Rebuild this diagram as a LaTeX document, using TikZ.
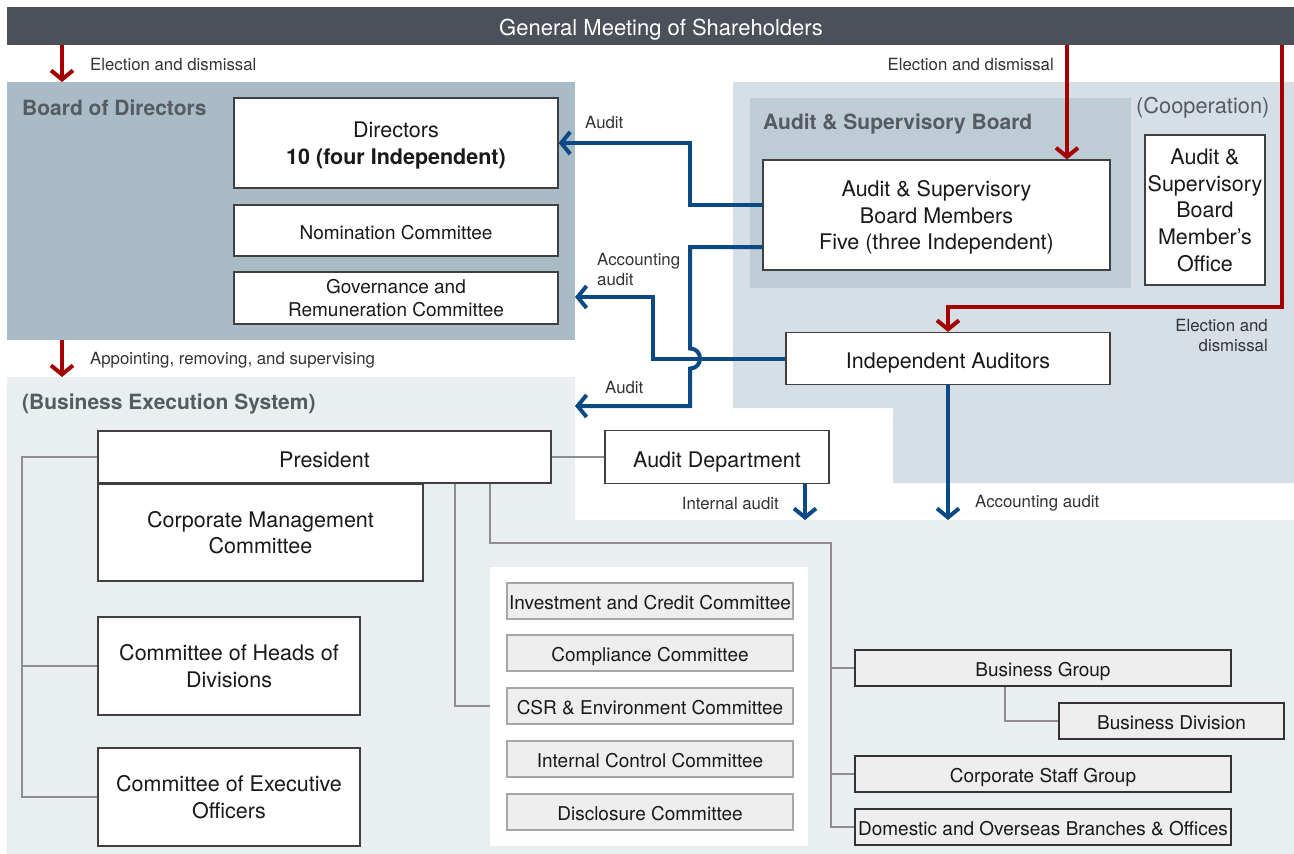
\documentclass[tikz,border=0pt]{standalone}
\usepackage{fontspec}
\setmainfont{TeX Gyre Heros}
\usetikzlibrary{arrows.meta}
\definecolor{topbar}{HTML}{4A5159}
\definecolor{bodpanel}{HTML}{A9BBC6}
\definecolor{audpanel}{HTML}{D6DFE6}
\definecolor{asbpanel}{HTML}{BDCCD5}
\definecolor{bespanel}{HTML}{E9EEF1}
\definecolor{redc}{HTML}{A30000}
\definecolor{bluec}{HTML}{0B4A84}
\definecolor{grayline}{HTML}{8E8E8E}
\definecolor{titlegray}{HTML}{555B61}
\definecolor{subfill}{HTML}{EEEEEE}
\newcommand{\fbig}{\fontsize{21.5}{26.8}\selectfont}
\newcommand{\fsml}{\fontsize{19}{22.5}\selectfont}
\newcommand{\flab}{\fontsize{16.8}{19.5}\selectfont}
\newcommand{\fttl}{\fontsize{21}{25}\selectfont\bfseries}
\newcommand{\toprule}{\rule{0pt}{0.93em}}
\newcommand{\toprulem}{\rule{0pt}{1.1em}}
\tikzset{
  vfix/.style={text depth=0pt, execute at begin node=\toprule},
  vfixm/.style={text depth=0pt, execute at begin node=\toprulem},
  box/.style={draw=black!75, line width=1.2pt, fill=white, inner sep=2pt, align=center, font=\fbig, text=black!90, vfix},
  mbox/.style={box, vfixm},
  subbox/.style={draw=black!35, line width=1.5pt, fill=subfill, inner sep=1pt, align=center, font=\fsml, text=black!90, minimum width=286pt, minimum height=36pt, vfix},
  orgbox/.style={draw=black!80, line width=1.2pt, fill=subfill, inner sep=1pt, align=center, font=\fsml, text=black!90, minimum height=36pt, vfix},
  lab/.style={font=\flab, text=black!80, inner sep=0pt},
  ttl/.style={font=\fttl, text=titlegray, inner sep=0pt, anchor=west},
  panel/.style={inner sep=0pt, outer sep=0pt, draw=none},
  rarrow/.style={draw=redc, line width=4pt, -{Straight Barb[length=9pt,width=22pt]}},
  barrow/.style={draw=bluec, line width=4pt, -{Straight Barb[length=9pt,width=22pt]}},
  gline/.style={draw=grayline, line width=2pt},
}
\begin{document}
\begin{tikzpicture}[x=1pt,y=-1pt]
\useasboundingbox (0,0) rectangle (1294,854);
% panels
\fill[bespanel] (7,377) -- (575,377) -- (575,520) -- (1294,520) -- (1294,854) -- (7,854) -- cycle;
\fill[audpanel] (733,82) -- (1294,82) -- (1294,483) -- (893,483) -- (893,408) -- (733,408) -- cycle;
\node[panel, fill=asbpanel, minimum width=381pt, minimum height=190pt] (asbp) at (940.5,193) {};
\node[panel, fill=bodpanel, minimum width=568pt, minimum height=258pt] (bodp) at (291,211) {};
\node[panel, fill=white, minimum width=318pt, minimum height=279pt] (wp) at (649,706.5) {};
% top bar
\node[panel, vfix, fill=topbar, minimum width=1287pt, minimum height=38pt, text=white, font=\fontsize{22}{26}\selectfont] (gm) at (650.5,25.5) {\hspace*{21pt}General Meeting of Shareholders};
% titles
\node[ttl] (bodt) at (22,108) {Board of Directors};
\node[ttl] (asbt) at (763,124) {Audit \& Supervisory Board};
\node[ttl, font=\fontsize{21.8}{25}\selectfont] (coop) at (1136,108) {(Cooperation)};
\node[ttl] (best) at (22,404) {(Business Execution System)};
% board boxes
\node[mbox, minimum width=324pt, minimum height=90pt] (dir) at (396,143) {Directors\\\textbf{10 (four Independent)}};
\node[box, font=\fsml, minimum width=324pt, minimum height=51pt] (nom) at (396,230.5) {Nomination Committee};
\node[mbox, font=\fsml, minimum width=324pt, minimum height=52pt] (gov) at (396,298) {Governance and\\Remuneration Committee};
% audit boxes
\node[mbox, minimum width=347pt, minimum height=110pt] (asbm) at (936.5,215) {Audit \& Supervisory\\Board Members\\Five (three Independent)};
\node[mbox, minimum width=120pt, minimum height=150pt, inner sep=0pt] (office) at (1205,210) {Audit \&\\Supervisory\\Board\\Member’s\\Office};
\node[box, minimum width=324pt, minimum height=52pt] (ia) at (948,358.5) {Independent Auditors};
% business execution boxes
\node[box, minimum width=453pt, minimum height=52pt] (pres) at (324.5,457) {President};
\node[box, minimum width=224pt, minimum height=53pt] (ad) at (717,457) {Audit Department};
\node[mbox, minimum width=325pt, minimum height=97pt] (cmc) at (260.5,532.5) {Corporate Management\\Committee};
\node[mbox, minimum width=262pt, minimum height=98pt] (chd) at (229,666) {Committee of Heads of\\Divisions};
\node[mbox, minimum width=262pt, minimum height=98pt] (ceo) at (229,797) {Committee of Executive\\Officers};
\node[subbox] (icc) at (650,601) {Investment and Credit Committee};
\node[subbox] (cc) at (650,653) {Compliance Committee};
\node[subbox] (csr) at (650,706) {CSR \& Environment Committee};
\node[subbox] (ic) at (650,759) {Internal Control Committee};
\node[subbox] (dc) at (650,812) {Disclosure Committee};
\node[orgbox, minimum width=376pt] (bg) at (1043,668) {Business Group};
\node[orgbox, minimum width=225pt] (bd) at (1171.5,721) {Business Division};
\node[orgbox, minimum width=376pt] (csg) at (1043,774) {Corporate Staff Group};
\node[orgbox, minimum width=376pt] (dob) at (1043,827) {Domestic and Overseas Branches \& Offices};
% helper coordinates
\coordinate (r1x) at (62,0);
\coordinate (bestop) at (0,377);
\coordinate (r3t) at ([xshift=130.5pt]asbm.north);
\coordinate (r4x) at (1282,0);
\coordinate (r4y) at (0,307);
\coordinate (bx) at (690,0);
\coordinate (b3x) at (653,0);
\coordinate (b3e) at (575,297);
\coordinate (b2e) at (575,406);
\coordinate (boty) at (0,520);
\coordinate (glx) at (22,0);
\coordinate (g3x) at (455,0);
\coordinate (g4x) at (490,0);
\coordinate (g4y) at (0,543);
\coordinate (g4r) at (831,0);
\coordinate (g5x) at (1005,0);
% red connectors
\draw[rarrow] (r1x |- gm.south) -- (r1x |- bodp.north);
\draw[rarrow] (r1x |- bodp.south) -- (r1x |- bestop);
\draw[rarrow] (r3t |- gm.south) -- (r3t);
\draw[rarrow] (r4x |- gm.south) -- (r4x |- r4y) -| (ia.north);
% blue connectors
\draw[barrow] ([yshift=10pt]asbm.west) -| (bx |- dir.east) -- (dir.east);
\draw[barrow] ([yshift=-32pt]asbm.west) -- (690,247) -- (690,348.5) .. controls (703.3,348.5) and (703.3,368.5) .. (690,368.5) -- (bx |- b2e) -- (b2e);
\draw[barrow] (ia.west) -- (ia.west -| b3x) |- (b3e);
\draw[barrow] (ia.south) -- (ia.south |- boty);
\draw[barrow] ([xshift=88pt]ad.south) -- ([xshift=88pt]ad.south |- boty);
% gray connectors
\draw[gline] (pres.east) -- (ad.west);
\draw[gline] (pres.west) -- (pres.west -| glx) |- (ceo.west);
\draw[gline] (chd.west -| glx) -- (chd.west);
\draw[gline] (g3x |- pres.south) |- (wp.west |- csr);
\draw[gline] (g4x |- pres.south) -- (g4x |- g4y) -- (g4r |- g4y) |- (dob.west);
\draw[gline] (g4r |- bg.west) -- (bg.west);
\draw[gline] (g4r |- csg.west) -- (csg.west);
\draw[gline] (g5x |- bg.south) |- (bd.west);
% labels
\node[lab, anchor=west] (l1) at (90,65) {Election and dismissal};
\node[lab, anchor=east] (l2) at (1054,65) {Election and dismissal};
\node[lab, anchor=west] (l3) at (585,123) {Audit};
\node[lab, anchor=west, align=left] (l4) at (597,269.5) {Accounting\\audit};
\node[lab, anchor=west] (l5) at (605,387) {Audit};
\node[lab, anchor=east, align=right] (l6) at (1268,335.5) {Election and\\dismissal};
\node[lab, anchor=west] (l7) at (90,360) {Appointing, removing, and supervising};
\node[lab, anchor=east] (l8) at (779,503) {Internal audit};
\node[lab, anchor=west] (l9) at (975,503) {Accounting audit};
\end{tikzpicture}
\end{document}
